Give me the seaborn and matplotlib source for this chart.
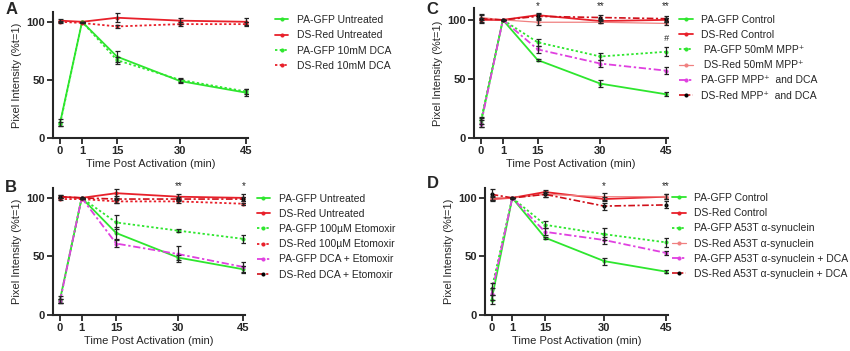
"""
Pixel intensity after photoactivation, four panels (A-D)
"""

import numpy as np
import seaborn as sns
import matplotlib.pyplot as plt

TIMES = [0, 1, 15, 30, 45]
TICK_LABELS = ["0", "1", "15", "30", "45"]

# panel A
A_GFP_UNT = [13, 100, 70, 49, 39]
A_GFP_UNT_ERR = [3, 0, 5, 2, 3]
A_RED_UNT = [101, 100, 103.5, 101, 100]
A_RED_UNT_ERR = [1.5, 0, 4, 2.5, 3]
A_GFP_DCA = [12, 100, 67, 50, 40]
A_GFP_DCA_ERR = [2, 0, 3, 2, 2]
A_RED_DCA = [100, 99, 96, 98, 98]
A_RED_DCA_ERR = [1, 0, 1, 1.5, 2]

# panel B
B_GFP_UNT = [13, 100, 70, 49, 39]
B_GFP_UNT_ERR = [3, 0, 5, 2, 3]
B_RED_UNT = [101, 100, 104, 101, 100]
B_RED_UNT_ERR = [1.5, 0, 4, 2.5, 3]
B_GFP_ETO = [12, 100, 79, 72, 65]
B_GFP_ETO_ERR = [2, 0, 6, 1, 3.5]
B_RED_ETO = [99, 99, 97, 97, 95]
B_RED_ETO_ERR = [1, 0, 1, 1, 1]
B_GFP_DCAETO = [12, 100, 61, 52, 41]
B_GFP_DCAETO_ERR = [2, 0, 3, 7, 4]
B_RED_DCAETO = [101, 100, 99, 99, 99]
B_RED_DCAETO_ERR = [1.5, 0, 3, 2, 2]

# panel C
C_GFP_CTL = [13, 100, 66, 46, 37]
C_GFP_CTL_ERR = [4, 0, 1, 3, 1.5]
C_RED_CTL = [100, 100, 104, 99, 100]
C_RED_CTL_ERR = [2, 0, 2, 2, 2]
C_GFP_MPP = [15, 100, 81, 69, 73]
C_GFP_MPP_ERR = [3, 0, 3, 3, 4]
C_RED_MPP = [102, 100, 98, 98, 97]
C_RED_MPP_ERR = [2, 0, 2, 1, 1]
C_GFP_MPPDCA = [12, 100, 75, 63, 57]
C_GFP_MPPDCA_ERR = [3, 0, 3, 3, 3]
C_RED_MPPDCA = [101, 100, 103, 102, 101]
C_RED_MPPDCA_ERR = [4, 0, 2, 2, 2]

# panel D
D_GFP_CTL = [13, 100, 66, 46, 37]
D_GFP_CTL_ERR = [4, 0, 1, 3, 1.5]
D_RED_CTL = [99, 100, 105, 99, 101]
D_RED_CTL_ERR = [2, 0, 2, 2, 2]
D_GFP_A53T = [22, 100, 77, 69, 62]
D_GFP_A53T_ERR = [5, 0, 3, 5, 4]
D_RED_A53T = [100, 100, 103, 101, 101]
D_RED_A53T_ERR = [2, 0, 2, 3, 2]
D_GFP_A53TDCA = [18, 100, 71, 64, 53]
D_GFP_A53TDCA_ERR = [5, 0, 3, 3, 2]
D_RED_A53TDCA = [103, 100, 103, 93, 94]
D_RED_A53TDCA_ERR = [5, 0, 2, 3, 3]

GREEN = "#2ee62e"
RED = "#e8202a"
PINK = "#f08080"
MAGENTA = "#e040e0"
DARKRED = "#d0101a"

# styles: (color, linestyle, linewidth, marker color)
S_GFP = (GREEN, "-", 1.3, GREEN)
S_RED = (RED, "-", 1.3, RED)
S_GFP_DOT = (GREEN, (0, (1.3, 1.3)), 1.3, GREEN)
S_RED_DOT = (RED, (0, (1.3, 1.3)), 1.3, RED)
S_PINK = (PINK, "-", 0.9, PINK)
S_MAG = (MAGENTA, (0, (4, 1.5, 1.3, 1.5)), 1.3, MAGENTA)
S_RED_DD = (DARKRED, (0, (4, 1.5, 1.3, 1.5)), 1.2, "black")

# knots for the uneven time axis
KNOT_T = np.array([-10, 0, 1, 15, 30, 45, 60])
KNOT_P = np.array([-220, 0, 22, 57, 120, 186, 252])


def fwd(t):
    return np.interp(t, KNOT_T, KNOT_P)


def inv(p):
    return np.interp(p, KNOT_P, KNOT_T)


sns.set_style("ticks")
plt.rcParams["font.family"] = ["Liberation Sans", "DejaVu Sans"]

fig = plt.figure(figsize=(8.5, 3.51), dpi=100)

panels = [
    ("A", [0.0624, 0.607, 0.229, 0.359], 108.5, (1.14, 0.975), (0.006, 0.995),
     [(A_GFP_UNT, A_GFP_UNT_ERR, S_GFP, "PA-GFP Untreated"),
      (A_RED_UNT, A_RED_UNT_ERR, S_RED, "DS-Red Untreated"),
      (A_GFP_DCA, A_GFP_DCA_ERR, S_GFP_DOT, "PA-GFP 10mM DCA"),
      (A_RED_DCA, A_RED_DCA_ERR, S_RED_DOT, "DS-Red 10mM DCA")],
     []),
    ("B", [0.0624, 0.1026, 0.226, 0.362], 108.5, (1.06, 0.955), (0.006, 0.487),
     [(B_GFP_UNT, B_GFP_UNT_ERR, S_GFP, "PA-GFP Untreated"),
      (B_RED_UNT, B_RED_UNT_ERR, S_RED, "DS-Red Untreated"),
      (B_GFP_ETO, B_GFP_ETO_ERR, S_GFP_DOT, "PA-GFP 100µM Etomoxir"),
      (B_RED_ETO, B_RED_ETO_ERR, S_RED_DOT, "DS-Red 100µM Etomoxir"),
      (B_GFP_DCAETO, B_GFP_DCAETO_ERR, S_MAG, "PA-GFP DCA + Etomoxir"),
      (B_RED_DCAETO, B_RED_DCAETO_ERR, S_RED_DD, "DS-Red DCA + Etomoxir")],
     [(30, "**"), (45, "*")]),
    ("C", [0.5576, 0.607, 0.228, 0.370], 110, (1.06, 0.95), (0.502, 0.995),
     [(C_GFP_CTL, C_GFP_CTL_ERR, S_GFP, "PA-GFP Control"),
      (C_RED_CTL, C_RED_CTL_ERR, S_RED, "DS-Red Control"),
      (C_GFP_MPP, C_GFP_MPP_ERR, S_GFP_DOT, " PA-GFP 50mM MPP⁺"),
      (C_RED_MPP, C_RED_MPP_ERR, S_PINK, " DS-Red 50mM MPP⁺"),
      (C_GFP_MPPDCA, C_GFP_MPPDCA_ERR, S_MAG, "PA-GFP MPP⁺  and DCA"),
      (C_RED_MPPDCA, C_RED_MPPDCA_ERR, S_RED_DD, "DS-Red MPP⁺  and DCA")],
     [(15, "*"), (30, "**"), (45, "**")]),
    ("D", [0.5706, 0.1026, 0.215, 0.362], 108.5, (1.025, 0.96), (0.502, 0.498),
     [(D_GFP_CTL, D_GFP_CTL_ERR, S_GFP, "PA-GFP Control"),
      (D_RED_CTL, D_RED_CTL_ERR, S_RED, "DS-Red Control"),
      (D_GFP_A53T, D_GFP_A53T_ERR, S_GFP_DOT, "PA-GFP A53T α-synuclein"),
      (D_RED_A53T, D_RED_A53T_ERR, S_PINK, "DS-Red A53T α-synuclein"),
      (D_GFP_A53TDCA, D_GFP_A53TDCA_ERR, S_MAG, "PA-GFP A53T α-synuclein + DCA"),
      (D_RED_A53TDCA, D_RED_A53TDCA_ERR, S_RED_DD, "DS-Red A53T α-synuclein + DCA")],
     [(30, "*"), (45, "**")]),
]

for letter, rect, ytop, leg_xy, letter_xy, series, stars in panels:
    ax = fig.add_axes(rect)
    for vals, err, style, label in series:
        color, ls, lw, mcol = style
        sns.lineplot(x=TIMES, y=vals, ax=ax, color=color, linestyle=ls, linewidth=lw,
                     marker="o", markersize=2.2, markerfacecolor=mcol,
                     markeredgecolor=mcol, label=label)
        ax.errorbar(TIMES, vals, yerr=err, fmt="none", ecolor="#222222",
                    elinewidth=0.9, capsize=1.8, capthick=0.9, zorder=3)
    ax.set_xscale("function", functions=(fwd, inv))
    ax.set_xlim(-0.32, 45.4)
    ax.set_ylim(0, ytop)
    ax.set_xticks(TIMES)
    ax.set_xticklabels(TICK_LABELS)
    ax.set_yticks([0, 50, 100])
    ax.minorticks_off()
    for lab in ax.get_xticklabels() + ax.get_yticklabels():
        lab.set_fontweight("bold")
        lab.set_fontsize(8)
    ax.tick_params(axis="both", direction="out", length=4, width=1.3, pad=2)
    for side in ("left", "bottom"):
        ax.spines[side].set_linewidth(1.5)
    sns.despine(ax=ax)
    ax.set_xlabel("Time Post Activation (min)", fontsize=8, labelpad=2)
    ax.set_ylabel("Pixel Intensity (%t=1)", fontsize=8, labelpad=3)
    ax.legend(loc="upper left", bbox_to_anchor=leg_xy, frameon=False,
              fontsize=7.5, handlelength=1.3, handletextpad=0.8,
              labelspacing=0.5, borderaxespad=0, borderpad=0)
    for t, s in stars:
        ax.annotate(s, xy=(t, 1.0), xycoords=("data", "axes fraction"),
                    xytext=(0, -1), textcoords="offset points",
                    ha="center", va="baseline", fontsize=7)
    if letter == "C":
        ax.annotate("#", xy=(45, 80), ha="center", va="bottom", fontsize=6.5,
                    fontstyle="italic")
    fig.text(letter_xy[0], letter_xy[1], letter, fontsize=12, fontweight="bold",
             va="top")

plt.savefig("out.png", dpi=100)
plt.close()
print("Saved out.png")
